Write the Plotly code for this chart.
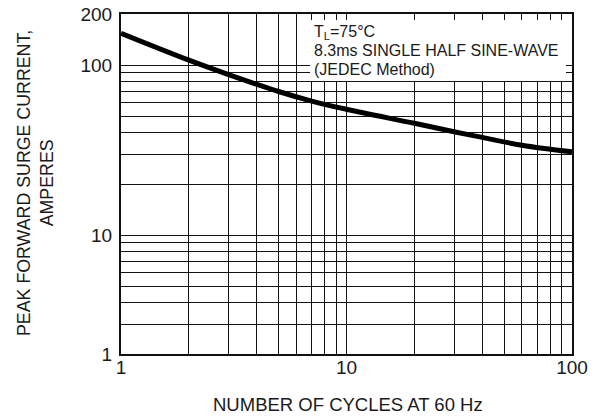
import plotly.graph_objects as go

# Data
cycles = [1, 2, 3, 5, 7, 10, 20, 30, 40, 60, 100]
current = [154, 107, 88, 70, 61.5, 55, 45.5, 40.6, 37.6, 33.8, 30.9]

x_major = [1, 10, 100]
x_labels = ["1", "10", "100"]
x_minor = [2, 3, 4, 5, 6, 7, 8, 9, 20, 30, 40, 50, 60, 70, 80, 90]
y_major = [2, 10, 100, 200]
y_labels = ["1", "10", "100", "200"]
y_minor = [3, 4, 5, 6, 7, 8, 9, 20, 30, 40, 50, 60, 70, 80, 90]

note_lines = ["T<sub>L</sub>=75°C", "8.3ms SINGLE HALF SINE-WAVE", "(JEDEC Method)"]

FONT = "Liberation Sans, Arial, Helvetica, sans-serif"
INK = "#1a1a1a"

fig = go.Figure()
fig.add_trace(go.Scatter(
    x=cycles, y=current, mode="lines",
    line=dict(color="black", width=5, shape="spline", smoothing=1.0),
    showlegend=False, hoverinfo="x+y",
))

W, H = 599, 418
L, R, T, B = 121, 27, 14, 64
pw = W - L - R
ph = H - T - B

def px_x(px):
    return (px - L) / pw

def px_y(py):
    return 1 - (py - T) / ph

grid = dict(showgrid=True, gridcolor="#111111", gridwidth=1.4)

annotations = []
for line, cy in zip(note_lines, [32, 50.5, 69]):
    annotations.append(dict(
        xref="paper", yref="paper",
        x=px_x(313), y=px_y(cy), xanchor="left", yanchor="middle",
        text=line, showarrow=False, borderpad=0,
        font=dict(size=16, family=FONT, color=INK),
    ))
annotations += [
    dict(
        xref="paper", yref="paper",
        x=px_x(348), y=px_y(405), xanchor="center", yanchor="middle",
        text="NUMBER OF CYCLES AT 60 Hz", showarrow=False,
        font=dict(size=18.5, family=FONT, color=INK),
    ),
    dict(
        xref="paper", yref="paper",
        x=px_x(35), y=px_y(183), xanchor="center", yanchor="middle",
        text="PEAK FORWARD SURGE CURRENT,<br>AMPERES", showarrow=False,
        textangle=-90,
        font=dict(size=17.8, family=FONT, color=INK),
    ),
]

fig.update_layout(
    width=W, height=H, autosize=False,
    margin=dict(l=L, r=R, t=T, b=B, pad=0, autoexpand=False),
    paper_bgcolor="white", plot_bgcolor="white",
    font=dict(family=FONT, color=INK),
    xaxis=dict(
        type="log", range=[0, 2], automargin=False,
        tickvals=x_major, ticktext=x_labels,
        minor=dict(tickvals=x_minor, ticks="", **grid),
        **grid,
        showline=True, linecolor="#111111", linewidth=2, mirror=True,
        ticks="", ticklabelstandoff=-5,
        tickfont=dict(size=19, family=FONT, color=INK),
        zeroline=False,
    ),
    yaxis=dict(
        type="log", range=[0.30103, 2.30103], automargin=False,
        tickvals=y_major, ticktext=y_labels,
        minor=dict(tickvals=y_minor, ticks="", **grid),
        **grid,
        showline=True, linecolor="#111111", linewidth=2, mirror=True,
        ticks="", ticklabelstandoff=3,
        tickfont=dict(size=19, family=FONT, color=INK),
        zeroline=False,
    ),
    shapes=[dict(
        type="rect", xref="paper", yref="paper", layer="above",
        x0=px_x(310), x1=px_x(566), y0=px_y(81), y1=px_y(20),
        fillcolor="white", line=dict(width=0),
    )],
    annotations=annotations,
)

fig.write_html(
    "out.html",
    config={"displayModeBar": False},
    post_script="document.body.style.margin='0';document.body.style.overflow='hidden';",
)
